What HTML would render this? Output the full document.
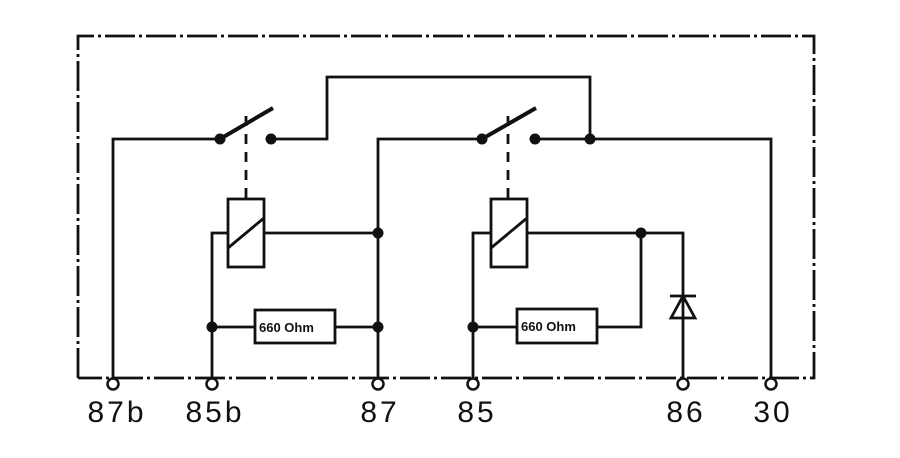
<!DOCTYPE html>
<html><head><meta charset="utf-8"><style>body{margin:0;background:#fff}svg{display:block}</style></head><body>
<svg width="900" height="458" viewBox="0 0 900 458" xmlns="http://www.w3.org/2000/svg">
<g fill="none" stroke="#111" stroke-width="2.8">
<path d="M78 378 V36 H814 V378 H78" stroke-dasharray="30 4 3 4"/>
<path d="M113 378 V139 H220"/>
<path d="M220 139 L273 108" stroke-width="4"/>
<path d="M271 139 H327 V77 H590 V139"/>
<path d="M378 378 V139 H482"/>
<path d="M482 139 L536 108" stroke-width="4"/>
<path d="M535 139 H771 V378"/>
<path d="M246 116 V200" stroke-dasharray="10 8"/>
<path d="M508 116 V200" stroke-dasharray="10 8"/>
<rect x="228" y="199" width="36" height="68"/>
<path d="M228 248 L264 218"/>
<path d="M228 233 H212 V378"/>
<path d="M264 233 H378"/>
<rect x="255" y="310" width="80" height="33"/>
<path d="M212 327 H255 M335 327 H378"/>
<rect x="491" y="199" width="36" height="68"/>
<path d="M491 248 L527 218"/>
<path d="M491 233 H473 V378"/>
<path d="M527 233 H683 V378"/>
<rect x="517" y="309" width="80" height="34"/>
<path d="M473 327 H517 M597 327 H641 V233"/>
<path d="M670 296 H696 M683 296 L671 318 H695 Z"/>
</g>
<g fill="#111">
<circle cx="220" cy="139" r="5.5"/><circle cx="271" cy="139" r="5.5"/>
<circle cx="482" cy="139" r="5.5"/><circle cx="535" cy="139" r="5.5"/><circle cx="590" cy="139" r="5.5"/>
<circle cx="378" cy="233" r="5.5"/><circle cx="212" cy="327" r="5.5"/><circle cx="378" cy="327" r="5.5"/>
<circle cx="473" cy="327" r="5.5"/><circle cx="641" cy="233" r="5.5"/>
</g>
<g fill="#fff" stroke="#111" stroke-width="2.5">
<circle cx="113" cy="384" r="5.5"/><circle cx="212" cy="384" r="5.5"/><circle cx="378" cy="384" r="5.5"/>
<circle cx="473" cy="384" r="5.5"/><circle cx="683" cy="384" r="5.5"/><circle cx="771" cy="384" r="5.5"/>
</g>
<g font-family="Liberation Sans, sans-serif" font-weight="bold" font-size="13" fill="#111">
<text x="259" y="332">660 Ohm</text><text x="521" y="331">660 Ohm</text>
</g>
<g font-family="Liberation Sans, sans-serif" font-size="30" fill="#111" text-anchor="middle" letter-spacing="3">
<text x="117" y="422">87b</text><text x="215" y="422">85b</text><text x="380" y="422">87</text>
<text x="477" y="422">85</text><text x="686" y="422">86</text><text x="773" y="422">30</text>
</g>
</svg>
</body></html>
